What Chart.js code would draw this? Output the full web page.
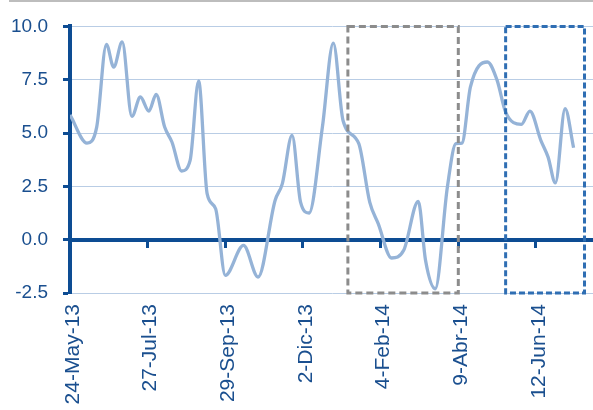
<!DOCTYPE html>
<html>
<head>
<meta charset="utf-8">
<script src="https://cdn.jsdelivr.net/npm/chart.js@4.4.0/dist/chart.umd.min.js"></script>
<style>
html, body { margin: 0; padding: 0; background: #fff; }
</style>
</head>
<body>
<canvas id="myChart" width="593" height="410"></canvas>
<script>
// x values are days counted from 24-May-13
const days = [0, 14, 22, 30, 36, 43, 51, 58, 65, 71, 78, 84, 92, 99, 106, 113, 120, 128, 143, 155,
    169, 175, 183, 190, 197, 208, 217, 225, 238, 247, 254, 265, 275, 287, 293, 301, 311, 318, 323, 330,
    344, 352, 359, 372, 379, 388, 394, 400, 408, 415];
const values = [5.85, 4.53, 5.28, 9.16, 8.09, 9.27, 5.78, 6.69, 6.03, 6.81, 5.28, 4.58, 3.22, 3.72, 7.44, 2.16, 1.45, -1.67, -0.27, -1.75,
    1.84, 2.63, 4.89, 1.76, 1.25, 5.28, 9.22, 5.59, 4.5, 1.76, 0.75, -0.86, -0.5, 1.8, -0.97, -2.3, 2.47, 4.5, 4.53, 7.16,
    8.33, 7.47, 5.98, 5.41, 6.03, 4.66, 3.87, 2.66, 6.14, 4.31];
const tickLabels = ['24-May-13', '27-Jul-13', '29-Sep-13', '2-Dic-13', '4-Feb-14', '9-Abr-14', '12-Jun-14'];
const tickStep = 64;
const lastDay = 431;

// dashed highlight windows (days)
const boxFrom = [229, 359];
const boxTo = [320, 424];

const axisColor = '#0d4c93';
const textColor = '#1a4f8f';
const gridColor = '#b9cde5';
const boxColors = ['#8c8c8c', '#2f6eb3'];
const boxDashes = [[7, 4], [6, 3]];

const xTicks = (scale) => { scale.ticks = tickLabels.map((_, i) => ({ value: i * tickStep })); };

const topRule = {
    id: 'topRule',
    beforeDraw(chart) {
        const c = chart.ctx;
        c.save();
        c.fillStyle = '#bdbdbd';
        c.fillRect(9, 0, chart.width - 9, 2);
        c.restore();
    }
};

const boxes = {
    id: 'boxes',
    afterDatasetsDraw(chart) {
        const c = chart.ctx;
        const x = chart.scales.x;
        const y = chart.scales.y;
        const top = y.getPixelForValue(y.max);
        const bottom = y.getPixelForValue(y.min);
        c.save();
        c.lineWidth = 3;
        boxFrom.forEach((from, i) => {
            const left = x.getPixelForValue(from);
            const right = x.getPixelForValue(boxTo[i]);
            c.strokeStyle = boxColors[i];
            c.setLineDash(boxDashes[i]);
            c.strokeRect(left, top, right - left, bottom - top);
        });
        c.restore();
    }
};

let ctx = document.getElementById('myChart').getContext('2d');
var myChart = new Chart(ctx, {         //eslint-disable-line
    type: 'line',
    data: {
        datasets: [{
            data: days.map((d, i) => ({ x: d, y: values[i] })),
            borderColor: '#95b3d7',
            borderWidth: 3.3,
            pointRadius: 0,
            cubicInterpolationMode: 'monotone',
            fill: false
        }]
    },
    options: {
        responsive: false,
        animation: false,
        layout: { padding: { top: 26, right: 0, left: 0, bottom: 0 } },
        plugins: {
            legend: { display: false },
            tooltip: { enabled: false }
        },
        scales: {
            x: {
                type: 'linear',
                position: 'bottom',
                min: 0,
                max: lastDay,
                grid: { display: false },
                border: { display: false },
                afterBuildTicks: xTicks,
                afterFit: (scale) => { scale.height = 117; },
                ticks: {
                    autoSkip: false,
                    minRotation: 90,
                    maxRotation: 90,
                    padding: 3,
                    labelOffset: 3,
                    color: textColor,
                    font: { family: 'Liberation Sans', size: 21 },
                    callback: (v) => tickLabels[Math.round(v / tickStep)]
                }
            },
            xZero: {
                type: 'linear',
                position: { y: 0 },
                min: 0,
                max: lastDay,
                afterBuildTicks: xTicks,
                grid: { drawOnChartArea: false, drawTicks: true, tickLength: 6, tickWidth: 3, tickColor: axisColor },
                border: { color: axisColor, width: 4 },
                ticks: { display: false }
            },
            y: {
                min: -2.5,
                max: 10,
                afterFit: (scale) => { scale.width = 70; },
                grid: {
                    color: (c) => (c.tick && c.tick.value === 0 ? 'rgba(0,0,0,0)' : gridColor),
                    lineWidth: 1,
                    tickColor: axisColor,
                    tickLength: 7,
                    tickWidth: 3
                },
                border: { color: axisColor, width: 4 },
                ticks: {
                    stepSize: 2.5,
                    padding: 15,
                    color: textColor,
                    font: { family: 'Liberation Sans', size: 19 },
                    callback: (v) => v.toFixed(1)
                }
            }
        }
    },
    plugins: [topRule, boxes]
});
</script>
</body>
</html>
